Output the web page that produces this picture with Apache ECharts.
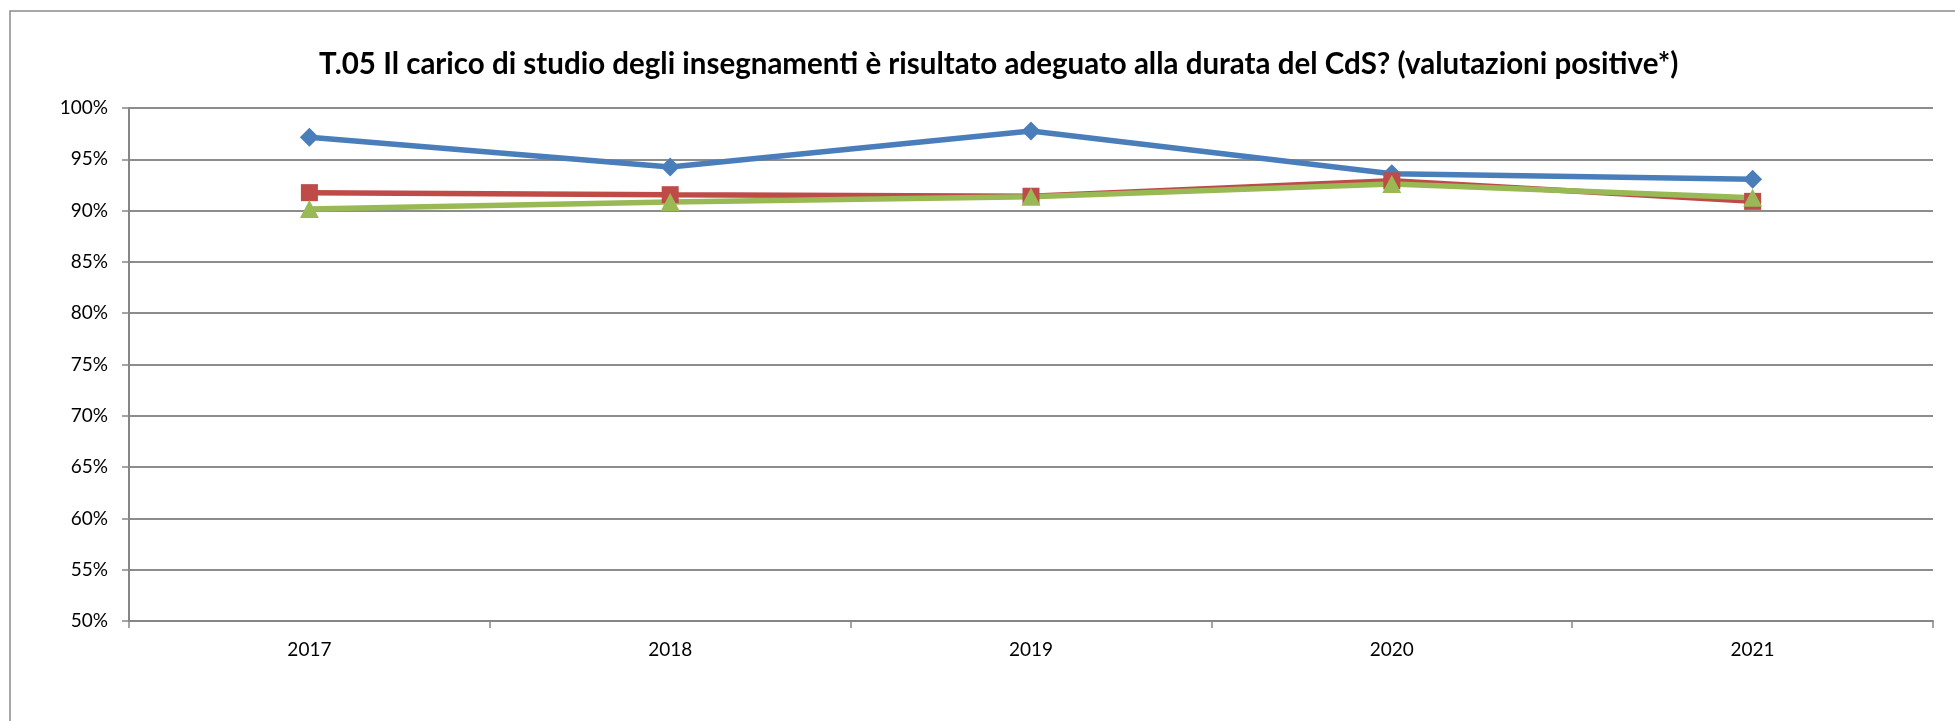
<!DOCTYPE html>
<html>
<head>
<meta charset="utf-8">
<script src="https://cdn.jsdelivr.net/npm/echarts@6/dist/echarts.min.js"></script>
<style>
html,body{margin:0;padding:0;background:#fff;}
#chart{width:1955px;height:721px;}
</style>
</head>
<body>
<div id="chart"></div>
<script>
const titleText = 'T.05 Il carico di studio degli insegnamenti è risultato adeguato alla durata del CdS? (valutazioni positive*)';
const categories = ['2017', '2018', '2019', '2020', '2021'];
const seriesBlue = [97.15, 94.25, 97.75, 93.6, 93.05];
const seriesRed = [91.75, 91.55, 91.4, 92.9, 90.9];
const seriesGreen = [90.15, 90.85, 91.35, 92.6, 91.25];
const yTicks = { min: 50, max: 100, interval: 5 };

const FONT = 'Lato';
const chart = echarts.init(document.getElementById('chart'), null, { renderer: 'canvas' });

function lineSeries(name, data, color, symbol, size) {
  return {
    name: name,
    type: 'line',
    data: data,
    symbol: symbol,
    symbolSize: size,
    showSymbol: true,
    lineStyle: { color: color, width: 5.5 },
    itemStyle: { color: color, borderWidth: 0 },
    emphasis: { disabled: true },
    animation: false
  };
}

chart.setOption({
  backgroundColor: '#ffffff',
  animation: false,
  title: {
    text: titleText,
    left: 314,
    top: 41,
    textStyle: { fontFamily: FONT, fontWeight: 'bold', fontSize: 29.5, color: '#000', lineHeight: 36 }
  },
  graphic: [{
    type: 'rect',
    shape: { x: 10, y: 11, width: 2000, height: 800 },
    style: { fill: 'none', stroke: '#8a8a8a', lineWidth: 1.5 },
    silent: true
  }],
  grid: { left: 129, right: 22, top: 108, bottom: 100, containLabel: false },
  xAxis: {
    type: 'category',
    data: categories,
    boundaryGap: true,
    axisLine: { lineStyle: { color: '#868686', width: 2 } },
    axisTick: { show: true, length: 7, lineStyle: { color: '#868686', width: 1.5 } },
    axisLabel: { fontFamily: FONT, fontSize: 19, color: '#000', margin: 19 },
    splitLine: { show: false }
  },
  yAxis: {
    type: 'value',
    min: yTicks.min,
    max: yTicks.max,
    interval: yTicks.interval,
    axisLine: { show: true, lineStyle: { color: '#868686', width: 2 } },
    axisTick: { show: true, length: 7, lineStyle: { color: '#868686', width: 1.5 } },
    axisLabel: { fontFamily: FONT, fontSize: 19, color: '#000', margin: 21, formatter: '{value}%' },
    splitLine: { show: true, lineStyle: { color: '#8c8c8c', width: 2 } }
  },
  series: [
    lineSeries('Serie 1', seriesBlue, '#4A7EBB', 'diamond', [19, 19]),
    lineSeries('Serie 2', seriesRed, '#BE4B48', 'rect', [17, 17]),
    lineSeries('Serie 3', seriesGreen, '#98B954', 'triangle', [19, 18])
  ]
});
</script>
</body>
</html>
